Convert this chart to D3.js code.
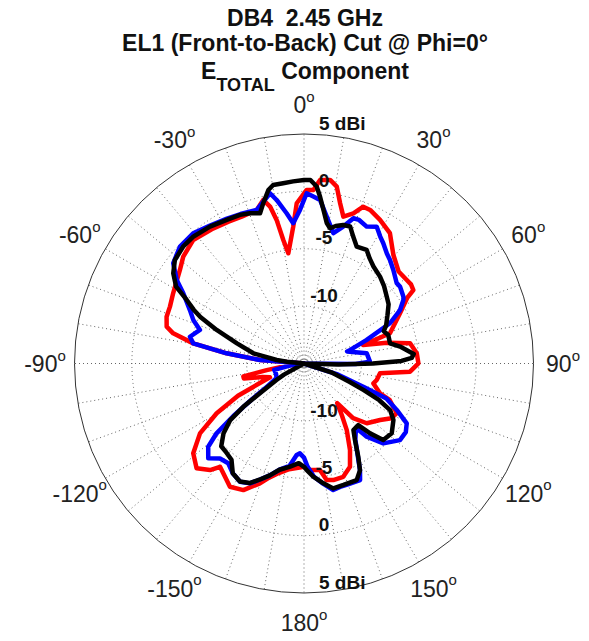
<!DOCTYPE html>
<html>
<head>
<meta charset="utf-8">
<script src="https://cdn.jsdelivr.net/npm/d3@7"></script>
<style>
  html, body { margin: 0; padding: 0; background: #fff; }
  svg { display: block; }
  text { font-family: "Liberation Sans", Arial, Helvetica, sans-serif; white-space: pre; }
</style>
</head>
<body>
<div id="chart"></div>
<script>
// ---------------- DATA ----------------
const titleLines = ["DB4  2.45 GHz", "EL1 (Front-to-Back) Cut @ Phi=0\u00b0"];
const angleTicks = [0, 30, 60, 90, 120, 150, 180, -150, -120, -90, -60, -30];
const ringTicks = [5, 0, -5, -10];
const spokeAngles = d3.range(0, 360, 10);

const redAngles = [-180, -172, -167, -163, -159.8, -154.4, -149, -145.1, -140.9, -138.6, -134.3, -129, -123.9, -119.7, -116, -112, -108, -104, -102, -100, -97, -93, -88, -85.5, -82.5, -79.7, -77, -75, -71.2, -67, -61.8, -53, -48.5, -41.9, -34.5, -28, -23, -17.1, -14, -12.2, -10.8, -9.5, -8.1, -4.5, -2.6, 0.9, 3.1, 5, 8.1, 10.5, 12.7, 15, 18.2, 20.7, 23.3, 27.9, 33.4, 39.5, 45.8, 50.9, 53.5, 56.1, 57.5, 62.4, 70.6, 72.7, 75.9, 79.2, 84.8, 89.9, 94.4, 97.3, 102.8, 106, 111.4, 113, 118.2, 122, 126.6, 133.6, 138, 140, 144, 147.3, 152, 156, 160.9, 165.9, 169, 171.5, 176.8];
const redValues = [-6.0, -5.7, -5.2, -4.6, -3.87, -2.77, -2.47, -2.97, -3.4, -2.62, -1.92, -2.58, -4.08, -6.24, -8.6, -11.8, -11.2, -9.6, -9.6, -11.7, -13.5, -15, -15, -11.2, -8.2, -5.19, -3.3, -2.61, -2.35, -2.31, -2.06, -1.46, -0.95, -0.54, -0.8, -1.0, -1.1, -1.0, -0.31, -1.01, -2.26, -4.08, -5.3, -3.04, -1.02, 0.13, 0.15, 1.06, 1.16, 0.68, -0.68, -1.75, -1.22, -0.39, -0.43, -0.84, -1.4, -2.75, -3.5, -3.46, -3.4, -3.52, -4.32, -5.56, -7.06, -9.6, -7.56, -5.59, -5.13, -5.03, -5.73, -8.32, -8.5, -8.71, -7.89, -6.9, -5.83, -6.0, -6.74, -7.45, -8.6, -10.5, -9.35, -8.1, -6.46, -5.15, -4.55, -4.53, -4.65, -5.61, -5.7];

const blueAngles = [-180, -177.4, -175.4, -172, -167, -163, -159, -155.7, -151.6, -147, -142.8, -138.5, -134.7, -131, -128.6, -126.5, -124.5, -122, -118, -110, -102, -97, -93, -88, -85.5, -82.5, -79.7, -76.8, -72.1, -68.5, -64.9, -59.8, -56.7, -52.5, -46.7, -40.4, -34.5, -28, -23, -17.1, -14.3, -11.3, -9.5, -6.6, -4.4, -1.5, 0.9, 3.2, 5.6, 8.8, 12.7, 16, 18.8, 21, 24.6, 28, 31, 33.4, 37, 39.7, 43.7, 49.1, 51.3, 56.1, 57.4, 60.9, 64.9, 69.5, 73.6, 74.5, 80.8, 88.4, 90.5, 92, 104, 108, 111.5, 113, 116.6, 120.2, 124, 128.6, 135.2, 139.4, 141, 146, 150, 152.3, 154.3, 160, 163.7, 167, 171, 175, 178];
const blueValues = [-6.8, -7.16, -7.0, -6.0, -5.5, -4.8, -4.15, -3.54, -3.28, -3.6, -4.08, -3.95, -3.26, -3.94, -5.25, -7.5, -9.5, -11.2, -12.3, -12.4, -12.35, -14, -15, -15, -11.15, -8.2, -5.19, -4.79, -5.47, -4.63, -4.02, -2.83, -1.73, -0.64, -0.15, -0.1, -0.45, -0.7, -0.85, -1.0, -0.5, 0.13, -0.55, -1.82, -2.74, -1.61, -0.16, -0.43, -0.68, -2.05, -3.36, -2.59, -1.63, -1.6, -1.88, -1.5, -2.1, -2.45, -3.0, -3.27, -3.73, -4.31, -4.28, -4.56, -4.72, -5.42, -6.73, -9.2, -10.8, -11.1, -9.46, -9.25, -10.5, -15, -15, -12, -9.4, -7.2, -5.96, -4.64, -4.3, -4.3, -5.19, -6.6, -7.8, -7.0, -5.6, -4.5, -3.73, -3.8, -3.8, -3.68, -4.4, -5.1, -6.0];

const blackAngles = [-180, -177, -172, -167, -163, -159, -155.5, -151.5, -147, -143, -139, -135, -131, -127.5, -125.5, -124, -121, -119, -117, -100, -88, -84, -82.7, -78.6, -73.3, -69, -65.8, -64, -61.6, -59, -55.4, -51.3, -46, -41, -34.5, -28.3, -23.3, -19.8, -16.3, -14.3, -11.6, -9.8, -6.6, -3.4, 0, 2, 4.1, 5.5, 7.2, 9.2, 10.9, 13, 15.8, 18.6, 21.2, 24.3, 28.9, 32, 35.6, 41.2, 46, 51.1, 55, 60, 65, 68, 71.3, 76.8, 80, 85, 87, 88.5, 90, 91.5, 93, 104, 108, 112, 114, 116, 118.4, 122.3, 128.5, 134, 136.6, 138.6, 143.4, 146.3, 149.8, 152.3, 155.7, 162, 166.8, 170.8, 175.3, 178.5];
const blackValues = [-6.0, -6.3, -5.9, -5.5, -4.8, -4.15, -3.55, -3.3, -3.6, -4.5, -4.7, -4.8, -5.7, -6.9, -8.5, -10.4, -12.2, -13, -15, -15, -15, -13.5, -12.6, -10.5, -8.9, -6.85, -5.1, -4.3, -3.4, -2.0, -1.16, -0.58, -0.35, -0.33, -0.53, -0.79, -0.9, -1.08, -1.36, -0.6, 0.44, 0.79, 0.82, 0.9, 1.0, 1.0, 0.46, -0.4, -1.5, -2.6, -3.0, -2.7, -2.45, -2.4, -3.14, -3.83, -3.7, -4.2, -4.6, -4.94, -5.3, -5.73, -6.0, -6.6, -7.1, -7.5, -7.25, -7.3, -6.5, -5.4, -5.6, -6.5, -9, -12, -15, -15, -12.5, -10.7, -9.3, -7.7, -6.47, -5.78, -5.23, -5.4, -6.62, -7.85, -7.78, -7.0, -5.6, -4.5, -3.85, -3.87, -3.82, -4.42, -5.1, -5.7];

// ---------------- LAYOUT ----------------
const W = 589, H = 641;
const cx = 304, cy = 363.5, R = 229.5;

const svg = d3.select("#chart").append("svg").attr("width", W).attr("height", H);

// Title
const title = svg.append("g").attr("font-weight", "bold").attr("font-size", 23).attr("fill", "#111").attr("text-anchor", "middle");
title.append("text").attr("x", 305).attr("y", 26).attr("xml:space", "preserve").text(titleLines[0]);
title.append("text").attr("x", 305).attr("y", 51).text(titleLines[1]);
const t3 = title.append("text").attr("x", 305).attr("y", 79);
t3.append("tspan").text("E");
t3.append("tspan").attr("font-size", 18).attr("dy", 12).text("TOTAL");
t3.append("tspan").attr("dy", -12).text(" Component");

const r = d3.scaleLinear().domain([-15, 5]).range([0, R]).clamp(true);
const g = svg.append("g").attr("transform", `translate(${cx},${cy})`);

// Spokes
g.selectAll("line.spoke").data(spokeAngles).join("line")
  .attr("class", "spoke")
  .attr("x1", 0).attr("y1", 0)
  .attr("x2", d => R * Math.sin(d * Math.PI / 180))
  .attr("y2", d => -R * Math.cos(d * Math.PI / 180))
  .attr("stroke", "#666").attr("stroke-width", 1).attr("stroke-dasharray", "1,3");

// Rings
g.selectAll("circle.ring").data(ringTicks.filter(v => v !== 5)).join("circle")
  .attr("class", "ring").attr("r", d => r(d))
  .attr("fill", "none").attr("stroke", "#666").attr("stroke-width", 1).attr("stroke-dasharray", "1,3");
g.append("circle").attr("r", r(5)).attr("fill", "none").attr("stroke", "#333").attr("stroke-width", 1);

// Series
const line = d3.lineRadial()
  .angle(d => d[0] * Math.PI / 180)
  .radius(d => r(d[1]))
  .curve(d3.curveLinearClosed);

const series = [
  { a: redAngles, v: redValues, c: "#ff0000" },
  { a: blueAngles, v: blueValues, c: "#0000ff" },
  { a: blackAngles, v: blackValues, c: "#000000" }
];
series.forEach(s => {
  const pts = s.a.map((a, i) => [a, s.v[i]]);
  g.append("path").datum(pts).attr("d", line)
    .attr("fill", "none").attr("stroke", s.c).attr("stroke-width", 4.5)
    .attr("stroke-linejoin", "round");
});

// Radial labels (top and bottom)
const rl = g.append("g").attr("font-weight", "bold").attr("font-size", 19).attr("fill", "#111");
ringTicks.forEach(v => {
  [-1, 1].forEach(side => {
    const y = side * r(v) - 11;
    if (v === 5) {
      rl.append("text").attr("x", 15).attr("y", y).attr("dy", "0.35em").attr("text-anchor", "start").text("5 dBi");
    } else {
      rl.append("text").attr("x", 20).attr("y", y).attr("dy", "0.35em").attr("text-anchor", "middle").text(String(v));
    }
  });
});

// Angle labels
const al = g.append("g").attr("font-size", 23).attr("fill", "#222");
angleTicks.forEach(a => {
  const rad = a * Math.PI / 180, rr = 259;
  const t = al.append("text")
    .attr("x", rr * Math.sin(rad)).attr("y", -rr * Math.cos(rad))
    .attr("text-anchor", "middle").attr("dy", "0.38em");
  t.append("tspan").text(String(a));
  t.append("tspan").attr("font-size", 15).attr("dy", "-0.75em").text("o");
});
</script>
</body>
</html>
